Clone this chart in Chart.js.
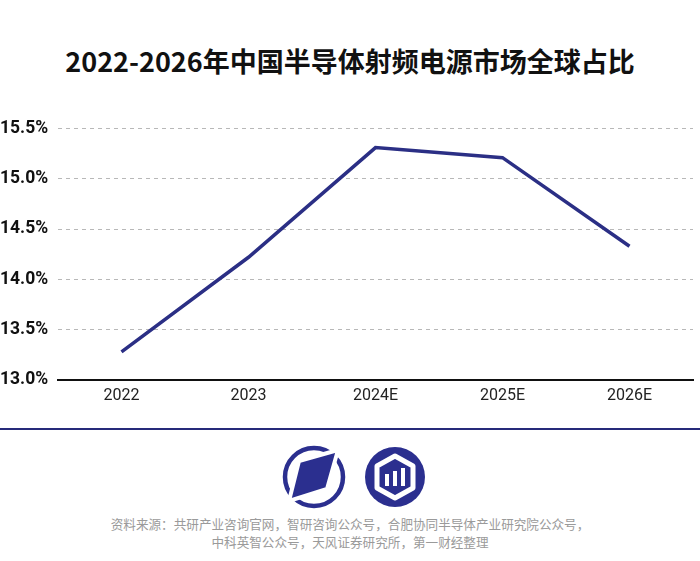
<!DOCTYPE html>
<html>
<head>
<meta charset="utf-8">
<script src="https://cdn.jsdelivr.net/npm/chart.js@4"></script>
<style>
    html, body { margin: 0; padding: 0; background: #fff; }
    body { width: 700px; height: 561px; position: relative; overflow: hidden; font-family: "Noto Sans CJK SC", "Noto Sans", sans-serif; }
    #title { position: absolute; left: 0; top: 41px; width: 700px; text-align: center; font-size: 27px; font-weight: 700; color: #111; line-height: 40px; }
    #chart-wrap { position: absolute; left: 0; top: 118px; width: 700px; height: 294px; }
    #sep { position: absolute; left: 0; top: 428px; width: 700px; height: 2px; background: #262a7a; }
    #logos { position: absolute; left: 0; top: 440px; width: 700px; height: 75px; }
    #source { position: absolute; left: 0; top: 515px; width: 700px; text-align: center; font-size: 12.6px; color: #9a9a9a; line-height: 18px; }
</style>
</head>
<body>
<div id="title">2022-2026年中国半导体射频电源市场全球占比</div>
<div id="chart-wrap"><canvas id="chart"></canvas></div>
<div id="sep"></div>
<svg id="logos" width="700" height="75" viewBox="0 440 700 75">
    <!-- left logo: ring cut by a parallelogram -->
    <circle cx="314" cy="477" r="29" fill="none" stroke="#2b2f8f" stroke-width="4.5"/>
    <polygon points="299,461 338,450 327,489 289,501" fill="#2b2f8f" stroke="#fff" stroke-width="4" stroke-linejoin="miter"/>
    <!-- right logo: filled circle, hexagon, bars -->
    <circle cx="395" cy="477" r="30" fill="#2b2f8f"/>
    <polygon points="395,456 413,466 413,488 395,498 377,488 377,466" fill="none" stroke="#fff" stroke-width="5" stroke-linejoin="round"/>
    <rect x="385" y="474" width="4" height="12" fill="#fff"/>
    <rect x="393" y="471" width="4" height="15" fill="#fff"/>
    <rect x="401" y="468" width="4" height="18" fill="#fff"/>
</svg>
<div id="source">资料来源：共研产业咨询官网，智研咨询公众号，合肥协同半导体产业研究院公众号，<br>中科英智公众号，天风证券研究所，第一财经整理</div>
<script>
    const categories = ['2022', '2023', '2024E', '2025E', '2026E'];
    const shareValues = [13.28, 14.22, 15.31, 15.21, 14.33];
    const yTicks = [13.0, 13.5, 14.0, 14.5, 15.0, 15.5];

    const NAVY = '#2b2f85';

    new Chart(document.getElementById('chart').getContext('2d'), {
        type: 'line',
        data: {
            labels: categories,
            datasets: [{
                data: shareValues,
                borderColor: NAVY,
                borderWidth: 3.5,
                pointRadius: 0,
                tension: 0,
                fill: false,
            }],
        },
        options: {
            responsive: true,
            maintainAspectRatio: false,
            animation: false,
            layout: { padding: { top: 0, right: 7, bottom: 0, left: 0 } },
            plugins: {
                legend: { display: false },
                tooltip: { enabled: false },
            },
            scales: {
                x: {
                    offset: true,
                    grid: { display: false, drawTicks: false },
                    border: { display: true, color: '#111', width: 2 },
                    ticks: { color: '#222', padding: 6, font: { size: 16, family: 'Roboto' } },
                    afterFit: s => { s.height = 32; },
                },
                y: {
                    min: 13.0,
                    max: 15.5,
                    afterBuildTicks: s => { s.ticks = yTicks.map(v => ({ value: v })); },
                    grid: { color: '#b8b8b8', lineWidth: 1, drawTicks: false },
                    border: { display: false, dash: [4, 4] },
                    ticks: {
                        color: '#111',
                        crossAlign: 'far',
                        padding: 0,
                        font: { size: 17.5, weight: 'bold', family: 'Roboto' },
                        callback: v => v.toFixed(1) + '%',
                    },
                    afterFit: s => { s.width = 58; },
                },
            },
        },
    });
</script>
</body>
</html>
